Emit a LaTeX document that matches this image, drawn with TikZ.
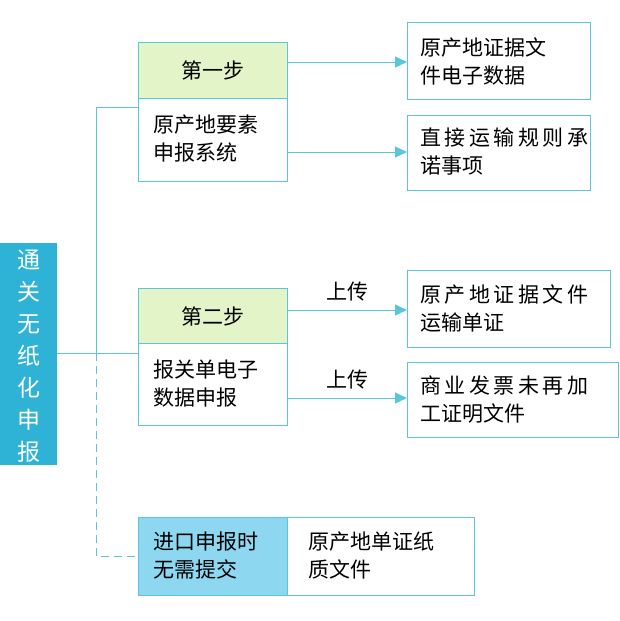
\documentclass[tikz,border=0pt]{standalone}
\usepackage{fontspec}
\setmainfont{Noto Sans CJK SC}
\usetikzlibrary{arrows.meta}
\definecolor{linecyan}{HTML}{5BC5DC}
\definecolor{stepgreen}{HTML}{E3F4C9}
\definecolor{barblue}{HTML}{2EB3D6}
\definecolor{noteblue}{HTML}{8ED7F0}
\tikzset{
  box/.style={draw=linecyan, line width=1pt},
  txt/.style={font=\fontsize{21}{28}\selectfont, align=left, inner sep=0pt},
  link/.style={draw=linecyan, line width=1pt},
  tip/.style={link, -{Triangle[length=12pt,width=11pt]}}
}
\begin{document}
\begin{tikzpicture}[x=1pt,y=-1pt]
  \useasboundingbox (0,0) rectangle (620,621);
  % left bar
  \fill[barblue] (0,243) rectangle (57,465);
  \node[text=white, font=\fontsize{23}{32}\selectfont, align=center] (bar) at (28.5,356)
    {通\\关\\无\\纸\\化\\申\\报};
  % step one
  \path[box, fill=stepgreen] (138,42) rectangle (287,98);
  \path[box] (138,98) rectangle (287,181);
  \node[txt] (one) at (212.5,70) {第一步};
  \node[txt, anchor=west] (oneb) at (153,139) {原产地要素\\申报系统};
  % step two
  \path[box, fill=stepgreen] (138,288) rectangle (287,343);
  \path[box] (138,343) rectangle (287,425);
  \node[txt] (two) at (212.5,316) {第二步};
  \node[txt, anchor=west] (twob) at (153,384) {报关单电子\\数据申报};
  % bottom
  \path[box, fill=noteblue] (138,517) rectangle (287,595);
  \path[box] (287,517) rectangle (474,595);
  \node[txt, anchor=west] (nosub) at (153,556) {进口申报时\\无需提交};
  \node[txt, anchor=west] (paper) at (308,556) {原产地单证纸\\质文件};
  % right boxes
  \path[box] (407,22) rectangle (590,99);
  \path[box] (407,115) rectangle (590,190);
  \path[box] (407,270) rectangle (610,347);
  \path[box] (407,362) rectangle (618,437);
  \node[txt, anchor=west] (r1) at (420,61) {原产地证据文\\件电子数据};
  \node[txt, anchor=west] (r2) at (420,152) {直\,接\,运\,输\,规\,则\,承\\诺事项};
  \node[txt, anchor=west] (r3) at (420,308) {原\,产\,地\,证\,据\,文\,件\\运输单证};
  \node[txt, anchor=west] (r4) at (420,400) {商\,业\,发\,票\,未\,再\,加\\工证明文件};
  % connectors
  \coordinate (top) at (96,107);
  \coordinate (mid) at (96,353);
  \coordinate (low) at (96,556);
  \draw[link] (138,107) -- (top) -- (mid);
  \draw[link] (57,353) -- (138,353);
  \draw[link, dash pattern=on 8pt off 5pt] (mid) -- (low) -- (138,556);
  \draw[tip] (287,62) -- (407,62);
  \draw[tip] (287,152) -- (407,152);
  \draw[tip] (287,310) -- node[above=8pt, txt] (up1) {上传} (407,310);
  \draw[tip] (287,398) -- node[above=8pt, txt] (up2) {上传} (407,398);
\end{tikzpicture}
\end{document}
